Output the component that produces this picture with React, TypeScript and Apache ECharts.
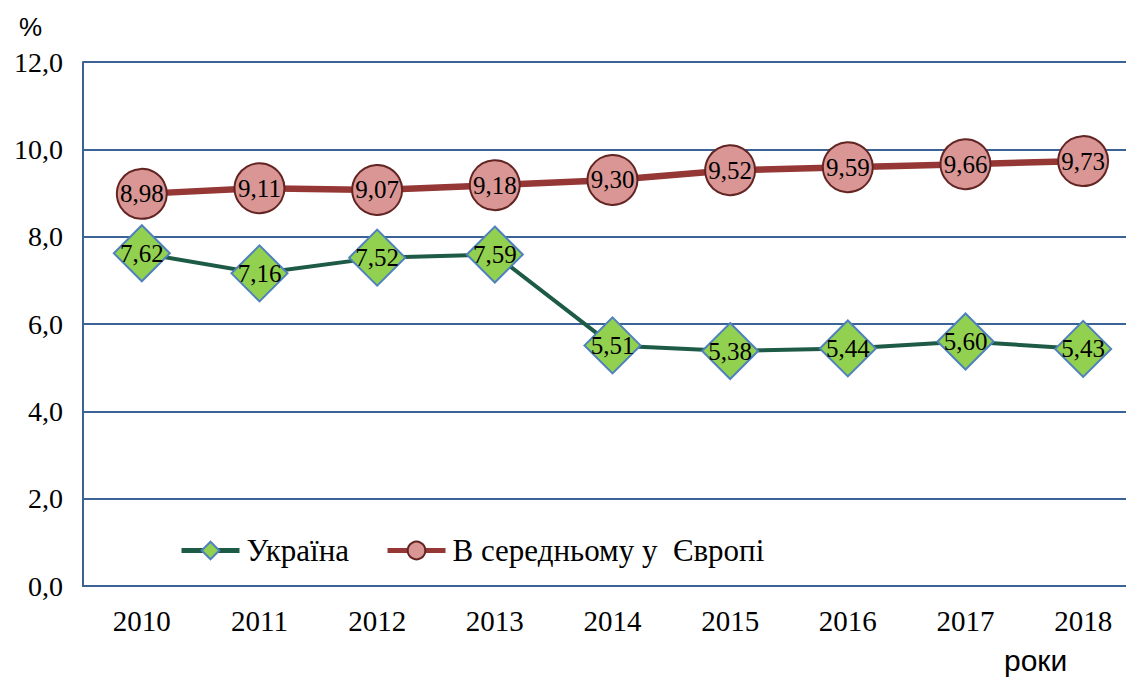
import React, { useEffect, useRef } from "react";
import * as echarts from "echarts";

const years = ["2010", "2011", "2012", "2013", "2014", "2015", "2016", "2017", "2018"];
const ukraine = [7.62, 7.16, 7.52, 7.59, 5.51, 5.38, 5.44, 5.6, 5.43];
const europe = [8.98, 9.11, 9.07, 9.18, 9.3, 9.52, 9.59, 9.66, 9.73];
const seriesNames = ["Україна", "В середньому у  Європі"];

const fmt = (v: number) => v.toFixed(2).replace(".", ",");
const serif = "Liberation Serif";
const sans = "Liberation Sans";
const axisBlue = "#3B6396";

export default function App() {
  const ref = useRef<HTMLDivElement>(null);
  useEffect(() => {
    document.body.style.margin = "0";
    document.body.style.overflow = "hidden";
    const chart = echarts.init(ref.current!, undefined, { renderer: "svg" });
    chart.setOption({
      animation: false,
      backgroundColor: "#ffffff",
      grid: { left: 83, right: 0, top: 62, bottom: 91 },
      legend: {
        left: 174,
        top: 530,
        itemWidth: 58,
        itemHeight: 22,
        itemGap: 36,
        lineStyle: { width: 5 },
        textStyle: { fontFamily: serif, fontSize: 31, color: "#000", padding: [0, 0, 0, 2] },
        data: seriesNames,
      },
      xAxis: {
        type: "category",
        data: years,
        boundaryGap: true,
        axisLine: { show: true, lineStyle: { color: axisBlue, width: 2 } },
        axisTick: { show: false },
        axisLabel: { fontFamily: serif, fontSize: 29, color: "#000", margin: 20 },
      },
      yAxis: {
        type: "value",
        min: 0,
        max: 12,
        interval: 2,
        axisLine: { show: true, lineStyle: { color: axisBlue, width: 2 } },
        axisTick: { show: false },
        splitLine: { lineStyle: { color: axisBlue, width: 2 } },
        axisLabel: {
          fontFamily: serif,
          fontSize: 28,
          color: "#000",
          margin: 20,
          formatter: (v: number) => v.toFixed(1).replace(".", ","),
        },
      },
      graphic: [
        { type: "text", left: 19, top: 14, style: { text: "%", fontFamily: sans, fontSize: 26, fill: "#000" } },
        { type: "text", left: 1004, top: 645, style: { text: "роки", fontFamily: sans, fontSize: 30, fill: "#000" } },
      ],
      series: [
        {
          name: seriesNames[0],
          type: "line",
          data: ukraine,
          symbol: "diamond",
          symbolSize: 56,
          lineStyle: { color: "#1E5B46", width: 4 },
          itemStyle: { color: "#92D050", borderColor: "#4F81BD", borderWidth: 2 },
          label: {
            show: true,
            position: "inside",
            fontFamily: serif,
            fontSize: 25,
            color: "#000",
            formatter: (p: any) => fmt(p.value),
          },
          z: 3,
        },
        {
          name: seriesNames[1],
          type: "line",
          data: europe,
          symbol: "circle",
          symbolSize: 50,
          lineStyle: { color: "#953735", width: 6.5 },
          itemStyle: { color: "#D99694", borderColor: "#632523", borderWidth: 2 },
          label: {
            show: true,
            position: "inside",
            fontFamily: serif,
            fontSize: 25,
            color: "#000",
            formatter: (p: any) => fmt(p.value),
          },
          z: 4,
        },
      ],
    });
    return () => chart.dispose();
  }, []);
  return <div ref={ref} style={{ width: 1142, height: 677 }} />;
}
